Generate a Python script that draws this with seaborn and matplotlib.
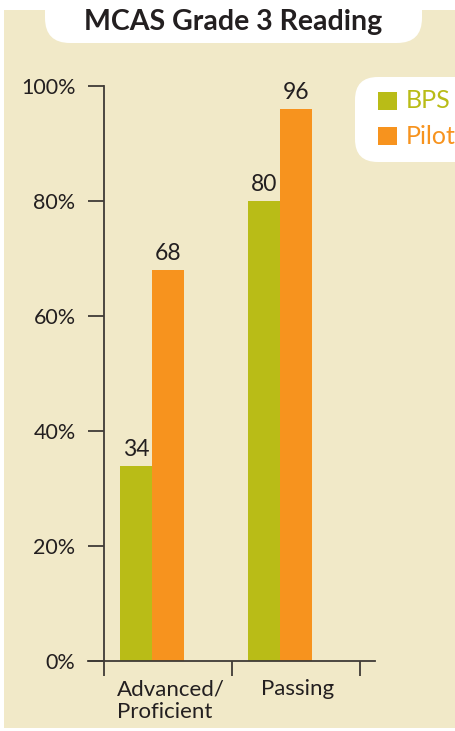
import matplotlib
matplotlib.use("Agg")
import matplotlib.pyplot as plt
from matplotlib.patches import FancyBboxPatch, Rectangle
import seaborn as sns
import pandas as pd

categories = ["Advanced/\nProficient", "Passing"]
groups = ["BPS", "Pilot"]
bps_values = [34, 80]
pilot_values = [68, 96]
y_ticks = [0, 20, 40, 60, 80, 100]
y_tick_labels = ["0%", "20%", "40%", "60%", "80%", "100%"]
title = "MCAS Grade 3 Reading"

GREEN = "#B9BC17"
ORANGE = "#F7931E"
CREAM = "#F1E9C8"
INK = "#231F20"
AXC = "#3F3B36"

df = pd.DataFrame({
    "cat": categories * 2,
    "group": [groups[0]] * 2 + [groups[1]] * 2,
    "val": bps_values + pilot_values,
})

sns.set_theme(style="white")
plt.rcParams["font.family"] = ["Lato", "DejaVu Sans"]

W, H = 455, 731
fig = plt.figure(figsize=(W / 100, H / 100), dpi=100)
fig.patch.set_facecolor("white")

# cream background
fig.patches.append(Rectangle((4 / W, 1 - 728 / H), (W - 4) / W, (728 - 10) / H,
                             transform=fig.transFigure, facecolor=CREAM,
                             edgecolor="none", zorder=0))
# title box
fig.patches.append(FancyBboxPatch((45 / W, 1 - 43 / H), (422 - 45) / W, 80 / H,
                                  boxstyle="round,pad=0,rounding_size=0.055",
                                  mutation_aspect=W / H,
                                  transform=fig.transFigure, facecolor="white",
                                  edgecolor="none", zorder=1))
fig.text(233 / W, 1 - 22 / H, title, ha="center", va="center",
         fontsize=20.5, fontweight="bold", color=INK, zorder=3)

# legend box
fig.patches.append(FancyBboxPatch((355 / W, 1 - 162 / H), 140 / W, 85 / H,
                                  boxstyle="round,pad=0,rounding_size=0.05",
                                  mutation_aspect=W / H,
                                  transform=fig.transFigure, facecolor="white",
                                  edgecolor="none", zorder=1))

# axes: pixel box x 88..375, y 86..676
ax = fig.add_axes([88 / W, 1 - 676 / H, (375 - 88) / W, (676 - 86) / H])
ax.set_facecolor("none")
ax.set_zorder(2)

sns.barplot(data=df, x="cat", y="val", hue="group", palette=[GREEN, ORANGE],
            width=0.5, dodge=True, saturation=1, legend=False, ax=ax,
            linewidth=0, edgecolor="none")

ax.set_xlim(-0.5, (375 - 152) / 128)
ax.set_ylim(-15 / 5.75, 100)

for cont in ax.containers:
    ax.bar_label(cont, labels=[f"{v:.0f}" for v in cont.datavalues],
                 padding=4, fontsize=16.5, color=INK)

for s in ["top", "right"]:
    ax.spines[s].set_visible(False)
ax.spines["left"].set_position(("data", -0.375))
ax.spines["left"].set_bounds(0, 100)
ax.spines["bottom"].set_position(("data", 0))
for s in ["left", "bottom"]:
    ax.spines[s].set_color(AXC)
    ax.spines[s].set_linewidth(1.3)

ax.set_yticks(y_ticks)
ax.set_yticklabels(y_tick_labels)
ax.tick_params(axis="y", direction="out", length=11.5, width=1.3, color=AXC,
               pad=9, labelsize=15.5, labelcolor=INK, left=True)

ax.set_xticks([-0.375, 0.625, 1.625])
ax.set_xticklabels(["", "", ""])
ax.tick_params(axis="x", which="major", direction="out", length=11, width=1.3,
               color=AXC, bottom=True)
ax.set_xticks([0.15, 1.14], minor=True)
ax.set_xticklabels(categories, minor=True, fontsize=16, color=INK,
                   multialignment="left", linespacing=1.2)
ax.tick_params(axis="x", which="minor", length=0, pad=13)
ax.set_xlabel("")
ax.set_ylabel("")

# legend entries
for i, (g, c) in enumerate(zip(groups, [GREEN, ORANGE])):
    ycen = 101 + i * 35
    fig.patches.append(Rectangle((378 / W, 1 - (ycen + 9) / H), 19 / W, 18 / H,
                                 transform=fig.transFigure, facecolor=c,
                                 edgecolor="none", zorder=3))
    fig.text(406 / W, 1 - ycen / H, g, ha="left", va="center",
             fontsize=18, color=c, zorder=3)

fig.savefig("out.png", dpi=100, facecolor=fig.get_facecolor())
